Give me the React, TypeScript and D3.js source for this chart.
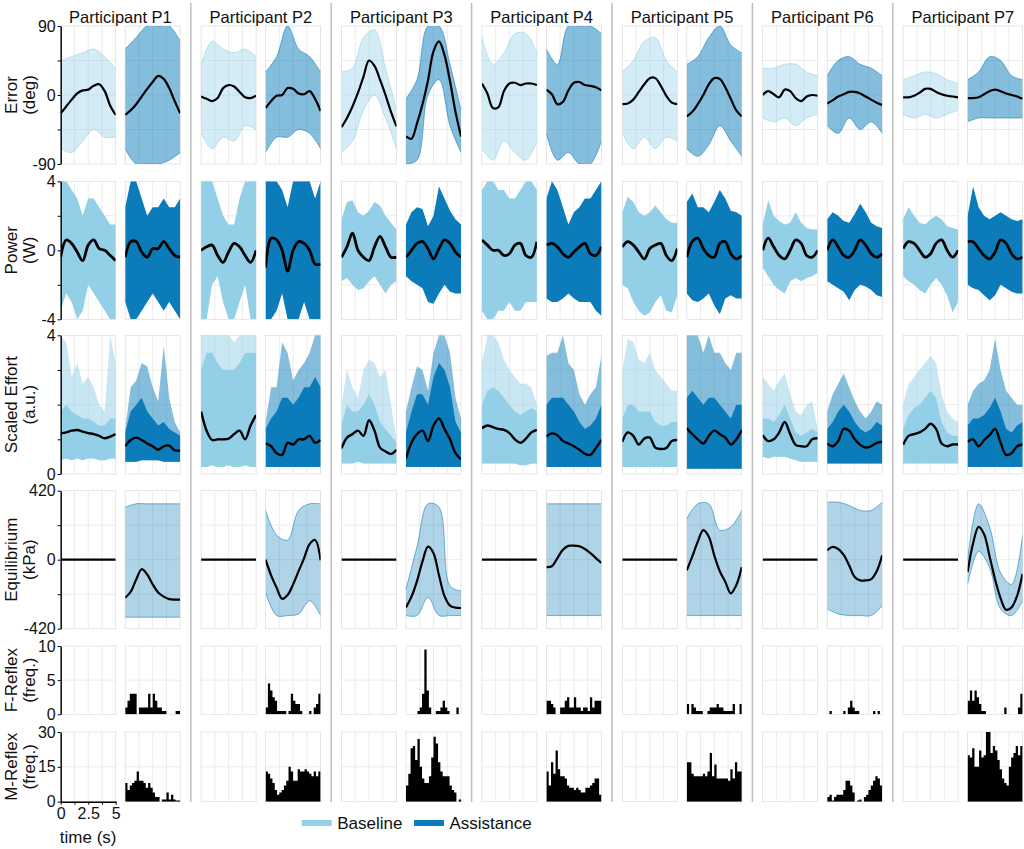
import * as d3 from "d3";
import { useEffect, useRef } from "react";

const participants = ["P1", "P2", "P3", "P4", "P5", "P6", "P7"];
const timeFine = [0, 0.5, 1, 1.5, 2, 2.5, 3, 3.5, 4, 4.5, 5];
const timeCoarse = [0, 1, 2, 3, 4, 5];
const timeFlat = [0, 5];
const timeTicks = [0, 1.25, 2.5, 3.75, 5];
const timeTickLabels = [0, 2.5, 5];
const histBins = 24;

const baseColor = "#93cfe7";
const assistColor = "#0b7cb9";

// Error (deg): mean traces and trial spread
const errorMeanBase = [
  [-24, -15, -6, 2, 6, 7, 12, 14, 5, -14, -26],
  [-2, -5, -8, -4, 9, 13, 11, 4, -3, -4, -1],
  [-42, -30, -15, 3, 24, 45, 38, 20, 0, -22, -41],
  [15, 2, -17, -16, 5, 15, 16, 13, 15, 15, 13],
  [-12, -11, -6, 4, 14, 22, 22, 12, -1, -10, -12],
  [0, 5, 1, -3, 7, 5, -4, -8, -2, 0, -1],
  [-3, -3, -1, 3, 8, 8, 4, 1, -1, -2, -3],
];
const errorMeanAssist = [
  [-26, -20, -12, -2, 8, 17, 25, 21, 9, -8, -24],
  [-17, -8, -1, 0, 9, 8, 2, 1, 5, -5, -21],
  [-54, -57, -37, -12, 19, 57, 70, 52, 18, -22, -54],
  [7, 1, -12, -9, 6, 16, 17, 13, 12, 10, 6],
  [-28, -22, -12, 0, 14, 22, 21, 10, -5, -20, -28],
  [-11, -7, -2, 1, 4, 4, 2, -2, -6, -10, -13],
  [-4, -4, -3, 1, 5, 7, 5, 2, 0, -2, -5],
];
const errorHiBase = [
  [45, 50, 55, 60, 50, 35],
  [40, 70, 60, 55, 60, 50],
  [30, 35, 75, 85, 35, -20],
  [75, 40, 55, 80, 80, 55],
  [30, 45, 70, 75, 45, 30],
  [35, 35, 40, 40, 30, 25],
  [20, 25, 30, 28, 20, 15],
];
const errorLoBase = [
  [-70, -75, -60, -45, -55, -55],
  [-50, -70, -55, -60, -40, -45],
  [-75, -60, -20, 0, -30, -70],
  [-70, -85, -60, -75, -85, -60],
  [-50, -70, -55, -70, -55, -60],
  [-30, -35, -30, -40, -30, -25],
  [-25, -30, -25, -30, -25, -20],
];
const errorHiAssist = [
  [60, 75, 90, 90, 90, 70],
  [30, 50, 90, 60, 50, 30],
  [-5, 20, 90, 90, 40, -20],
  [60, 40, 90, 90, 90, 80],
  [40, 50, 75, 90, 65, 55],
  [25, 45, 50, 40, 35, 25],
  [20, 30, 50, 45, 25, 20],
];
const errorLoAssist = [
  [-70, -90, -90, -90, -85, -75],
  [-75, -55, -55, -45, -50, -70],
  [-90, -85, 0, 20, -40, -75],
  [-50, -85, -75, -90, -90, -60],
  [-70, -80, -65, -40, -60, -80],
  [-40, -50, -30, -45, -35, -50],
  [-35, -30, -30, -30, -30, -30],
];

// Power (W)
const powerMeanBase = [
  [-0.4, 0.6, 0.4, -0.1, -0.6, 0.3, 0.6, 0.1, 0, -0.3, -0.6],
  [0, 0.2, 0.3, -0.3, -0.7, -0.1, 0.4, 0.2, -0.3, -0.7, 0],
  [-0.4, 0.2, 1.0, 0, -0.4, -0.6, 0.2, 0.8, 0.2, -0.4, -0.4],
  [0.6, 0.3, 0, 0, -0.3, -0.2, 0.3, 0.4, -0.3, -0.4, 0.5],
  [0.2, 0.5, 0.3, -0.1, -0.5, 0.1, 0.3, 0.4, -0.3, -0.6, 0.1],
  [0, 0.7, 0.2, -0.3, -0.5, 0, 0.6, 0.4, -0.3, -0.4, 0],
  [0.1, 0.5, 0.4, 0, -0.4, -0.2, 0.4, 0.6, 0, -0.4, 0],
];
const powerMeanAssist = [
  [-0.4, 0.5, 0.5, -0.1, -0.4, 0.1, 0.1, 0.5, 0.1, -0.3, -0.4],
  [-1, 0.7, 0.6, 0, -1.2, 0, 0.5, 0.4, 0, -0.8, -0.8],
  [-0.4, 0, 0.4, 0.5, 0.1, -0.5, 0.1, 0.6, 0.4, -0.1, -0.4],
  [0.3, 0.4, 0.2, -0.2, -0.4, -0.1, 0.2, 0.4, -0.2, -0.3, 0.2],
  [-0.4, 0.5, 0.7, 0.1, -0.3, -0.4, 0.4, 0.5, -0.2, -0.5, -0.3],
  [0, 0.6, 0.2, -0.3, -0.4, 0, 0.6, 0.3, -0.2, -0.4, -0.2],
  [0.5, 0.5, 0.1, -0.3, -0.5, -0.1, 0.6, 0.4, -0.2, -0.5, -0.4],
];
const powerHiBase = [
  [4, 4, 3.5, 3, 2, 3, 3, 2.5, 2, 1.5, 1.5],
  [4, 4, 4, 3, 2, 1.5, 1.5, 3, 4, 4, 4],
  [1.8, 2.8, 2.9, 2.2, 2, 2.3, 2.8, 2.6, 2, 1.6, 1.2],
  [3.5, 4, 4, 3.5, 3.5, 3, 3, 3.5, 4, 4, 3.5],
  [2.2, 3.1, 2.8, 2.2, 2, 2.2, 2.6, 2.2, 1.8, 1.6, 1.6],
  [1.5, 2.9, 2, 1.7, 1.5, 1.6, 2.2, 1.6, 1.3, 1.2, 1.2],
  [1.8, 2.5, 2, 1.6, 1.5, 1.8, 2, 1.8, 1.4, 1.3, 1.2],
];
const powerLoBase = [
  [-3.5, -2.5, -3, -4, -3.5, -2, -2.5, -3, -3.5, -4, -4],
  [-4, -4, -2, -1.5, -3, -4, -4, -3, -2, -4, -4],
  [-1.8, -1.6, -2, -2.3, -2.2, -1.8, -1.5, -2, -2.5, -2, -1.8],
  [-3.5, -4, -4, -3.5, -3.5, -3, -3.5, -3.5, -3, -3, -3],
  [-2, -2.2, -3, -3.5, -3.8, -3.6, -3, -2.6, -3.5, -3.6, -2.6],
  [-1, -1.5, -2, -2.3, -2.5, -1.8, -1.6, -1.8, -1.6, -1.5, -1.3],
  [-1.5, -1.8, -2, -2.3, -2.5, -2, -1.6, -2, -2.6, -3.6, -3],
];
const powerHiAssist = [
  [2.5, 4, 4, 3, 2, 2.5, 2.5, 3, 2.5, 2.5, 3],
  [4, 4, 4, 3.5, 2.5, 4, 4, 4, 4, 3, 4],
  [1.5, 2.2, 2.5, 2.4, 1.4, 2, 3.7, 3, 2.3, 1.8, 1.5],
  [3, 4, 3.5, 2.5, 1.5, 2.2, 2.5, 3, 3, 3.5, 4],
  [2.8, 3.3, 2.5, 2.5, 2.2, 2.8, 3.5, 3, 2.3, 2.2, 2],
  [1.8, 2.2, 2, 1.7, 1.6, 2.1, 2.7, 2.2, 1.6, 1.4, 1.3],
  [2, 3.7, 2.5, 2, 1.8, 2, 2.2, 2, 1.8, 1.7, 1.8],
];
const powerLoAssist = [
  [-3, -4, -4, -3.5, -3, -2.5, -3, -3.5, -3, -3.5, -4],
  [-4, -4, -3.5, -2.5, -4, -4, -4, -3, -4, -4, -4],
  [-1.5, -1.8, -2, -2.2, -3, -3.1, -2.5, -2, -2.4, -2.5, -2.5],
  [-2.8, -3, -3, -2.8, -2.5, -2.8, -3, -3, -3, -3.5, -3.8],
  [-2.5, -2.9, -3, -2.8, -2.5, -3.2, -3.7, -2.8, -2.6, -2.8, -2.8],
  [-1.8, -2, -2.2, -2.4, -2.9, -2.3, -2, -2.1, -2.3, -2.6, -2.7],
  [-2, -2.2, -2.3, -2.6, -2.9, -2.6, -2, -2.2, -2.4, -2.5, -2.5],
];

// Scaled effort (a.u.): mean, dense core top, sparse peak top, floor
const effortMeanBase = [
  [1.17, 1.2, 1.25, 1.27, 1.22, 1.18, 1.15, 1.1, 1.03, 1.08, 1.15],
  [1.8, 1.25, 0.98, 1.0, 1.0, 1.02, 1.15, 1.25, 1.0, 1.4, 1.7],
  [0.74, 1.05, 1.15, 1.25, 1.1, 1.55, 1.25, 0.76, 0.65, 0.58, 0.7],
  [1.32, 1.4, 1.35, 1.3, 1.27, 1.18, 1.0, 0.9, 1.02, 1.2, 1.27],
  [0.93, 1.2, 1.1, 0.85, 1.02, 1.05, 0.76, 0.72, 0.75, 0.95, 0.98],
  [1.12, 0.95, 1.0, 1.2, 1.5, 1.15, 0.84, 0.8, 0.8, 1.0, 1.03],
  [0.84, 1.1, 1.15, 1.2, 1.3, 1.45, 1.3, 0.88, 0.8, 0.85, 0.85],
];
const effortMeanAssist = [
  [0.8, 0.98, 1.05, 0.98, 0.88, 0.8, 0.7, 0.8, 0.82, 0.68, 0.68],
  [0.88, 0.8, 0.6, 0.55, 0.9, 0.85, 1.0, 1.0, 1.1, 0.9, 0.98],
  [0.45, 0.9, 1.15, 1.25, 0.95, 1.4, 1.6, 1.3, 1.0, 0.6, 0.42],
  [1.08, 1.17, 1.12, 0.95, 0.88, 0.8, 0.7, 0.58, 0.55, 0.75, 0.98],
  [1.32, 1.15, 1.0, 0.88, 1.1, 1.25, 1.15, 1.05, 0.85, 1.0, 1.27],
  [0.88, 0.8, 0.95, 1.3, 1.25, 1.0, 0.84, 0.76, 0.8, 0.9, 0.93],
  [0.93, 1.0, 0.8, 0.98, 1.12, 1.3, 0.9, 0.55, 0.6, 0.8, 0.85],
];
const effortCoreBase = [
  [1.8, 2, 1.8, 1.7, 1.6, 1.6, 1.5, 1.4, 1.4, 1.6, 1.6],
  [3, 3.5, 3.5, 3.2, 3, 3, 3, 3.2, 3.5, 3.5, 3.5],
  [1.4, 2, 1.8, 1.8, 2, 2.3, 2, 1.5, 1.3, 1.1, 0.9],
  [2, 2.4, 2.5, 2.4, 2.2, 2, 1.8, 1.7, 1.8, 1.9, 1.8],
  [1.6, 2, 2, 1.8, 1.8, 1.8, 1.5, 1.4, 1.4, 1.5, 1.5],
  [1.6, 1.6, 1.5, 1.7, 2, 1.6, 1.2, 1.1, 1.2, 1.3, 1.2],
  [1.3, 1.7, 1.9, 2, 2.2, 2.4, 2.2, 1.5, 1.2, 1.1, 1.1],
];
const effortCoreAssist = [
  [1.2, 1.8, 2, 2.2, 1.8, 1.6, 1.4, 1.5, 1.3, 1.2, 1.1],
  [1.3, 1.6, 1.8, 2.2, 2.2, 2, 2.2, 2.5, 2.5, 2.8, 2.5],
  [1.2, 1.8, 2.3, 2.3, 2, 2.8, 3.2, 3, 2.5, 1.5, 1.2],
  [2, 2.2, 2.2, 2.2, 2, 1.8, 1.5, 1.3, 1.4, 1.6, 2],
  [2.2, 2.4, 2.2, 2, 2.2, 2.2, 2, 1.8, 1.6, 2, 2],
  [1.3, 1.5, 1.8, 2, 1.8, 1.5, 1.3, 1.2, 1.3, 1.5, 1.4],
  [1.4, 1.6, 1.6, 1.7, 1.9, 2.2, 1.8, 1.3, 1.2, 1.4, 1.5],
];
const effortHiBase = [
  [4, 3.8, 2.8, 3.2, 2.6, 2.8, 2.5, 2, 1.8, 4, 3.2],
  [4, 4, 4, 4, 4, 4, 3.8, 4, 4, 4, 4],
  [2, 3, 2.5, 2.2, 3, 3.3, 3.2, 2.8, 3, 2, 1],
  [3.2, 4, 4, 3.8, 3.3, 3, 2.8, 2.6, 2.6, 2.5, 2],
  [3, 3.9, 3.8, 3.3, 3.2, 3.5, 3, 2.8, 2.6, 2.4, 2.4],
  [2.8, 2.6, 2.4, 2.7, 2.9, 2.3, 1.8, 1.7, 2, 2.1, 1.3],
  [2, 2.6, 2.8, 3, 3.2, 3.4, 3.2, 2.3, 1.8, 1.6, 1.5],
];
const effortLoBase = [
  [0.4, 0.45, 0.4, 0.45, 0.4, 0.45, 0.45, 0.4, 0.4, 0.45, 0.45],
  [0.2, 0.2, 0.25, 0.2, 0.2, 0.25, 0.2, 0.2, 0.25, 0.2, 0.2],
  [0.3, 0.3, 0.3, 0.35, 0.3, 0.3, 0.3, 0.3, 0.3, 0.3, 0.3],
  [0.3, 0.3, 0.3, 0.3, 0.3, 0.3, 0.3, 0.25, 0.25, 0.3, 0.3],
  [0.2, 0.2, 0.2, 0.2, 0.2, 0.2, 0.2, 0.2, 0.2, 0.2, 0.2],
  [0.5, 0.45, 0.5, 0.5, 0.5, 0.45, 0.4, 0.35, 0.35, 0.35, 0.35],
  [0.3, 0.3, 0.3, 0.3, 0.3, 0.3, 0.3, 0.3, 0.3, 0.3, 0.3],
];
const effortHiAssist = [
  [1.3, 2.5, 2.7, 3.2, 3.1, 2.5, 2.1, 3.7, 2.2, 1.5, 1.2],
  [1.5, 2.5, 2.5, 3.8, 3.5, 2.7, 3, 3.2, 3.5, 4, 4],
  [1.8, 2.5, 3.1, 3, 2.4, 3.5, 4, 4, 3.5, 2.2, 1.6],
  [3.4, 3.5, 3.5, 4, 3.2, 3, 2.3, 2, 2.3, 2.5, 3.4],
  [4, 4, 4, 3.5, 4, 3.5, 3.5, 3.2, 3, 3.5, 3.5],
  [1.8, 2.3, 2.6, 2.9, 2.5, 2.1, 1.8, 1.6, 1.8, 2.1, 2],
  [2, 2.4, 2.6, 2.7, 3, 3.9, 3, 2.4, 2.2, 2, 2],
];
const effortLoAssist = [
  [0.35, 0.35, 0.35, 0.4, 0.4, 0.4, 0.4, 0.35, 0.35, 0.35, 0.35],
  [0.2, 0.2, 0.2, 0.2, 0.2, 0.2, 0.2, 0.2, 0.2, 0.2, 0.2],
  [0.2, 0.2, 0.2, 0.2, 0.2, 0.2, 0.2, 0.2, 0.2, 0.2, 0.2],
  [0.2, 0.2, 0.2, 0.2, 0.2, 0.2, 0.2, 0.2, 0.2, 0.2, 0.2],
  [0.15, 0.15, 0.15, 0.15, 0.15, 0.15, 0.15, 0.15, 0.15, 0.15, 0.15],
  [0.3, 0.3, 0.3, 0.3, 0.3, 0.3, 0.3, 0.3, 0.3, 0.3, 0.3],
  [0.2, 0.2, 0.2, 0.2, 0.2, 0.2, 0.2, 0.2, 0.2, 0.2, 0.2],
];

// Equilibrium (kPa): baseline is held at zero
const equilMeanBase = [[0, 0], [0, 0], [0, 0], [0, 0], [0, 0], [0, 0], [0, 0]];
const equilMeanAssist = [
  [-232, -195, -120, -58, -90, -150, -200, -225, -240, -243, -243],
  [0, -95, -170, -238, -215, -150, -70, 10, 95, 120, -4],
  [-290, -225, -130, -10, 80, 40, -95, -222, -280, -292, -294],
  [-45, -40, 10, 60, 84, 86, 82, 65, 40, 10, -20],
  [-65, 20, 110, 180, 140, 25, -70, -135, -205, -155, -45],
  [57, 78, 65, 30, -35, -105, -126, -126, -118, -70, 27],
  [-75, 100, 200, 155, 20, -120, -235, -305, -290, -220, -86],
];
const equilHiAssist = [
  [320, 340, 340, 340, 340, 340],
  [300, 150, 120, 300, 340, 340],
  [-180, 80, 340, 320, -160, -190],
  [340, 340, 340, 340, 340, 340],
  [250, 340, 340, 180, 200, 300],
  [350, 350, 330, 300, 300, 350],
  [0, 340, 200, -80, -150, 150],
];
const equilLoAssist = [
  [-350, -350, -350, -350, -350, -350],
  [-200, -340, -340, -330, -250, -340],
  [-340, -340, -230, -340, -340, -340],
  [-340, -340, -340, -340, -340, -340],
  [-340, -340, -340, -340, -340, -340],
  [-300, -330, -340, -340, -340, -280],
  [-150, 50, -50, -300, -340, -250],
];

// Reflex histograms (assistance only), 24 bins over 5 s
const fReflexAssist = [
  [1, 2, 3, 3, 3, 0, 1, 1, 1, 1, 3, 1, 3, 2, 1, 1, 0.5, 0.5, 0, 0, 0, 0, 0.5, 0.5],
  [1, 4.5, 3.5, 2.5, 2, 0.5, 0.5, 0.5, 0.5, 0, 0.5, 3, 2, 1.5, 1.5, 0.5, 0, 0, 0, 0.5, 0, 1, 1.5, 3],
  [0, 0, 0, 0, 0, 0.5, 1, 3, 9.5, 3.5, 1, 0, 0, 0.5, 0.5, 1, 2, 1, 0.5, 0, 0, 0, 1, 0],
  [2, 2, 1.5, 1, 0, 0, 1, 1, 2, 2.5, 1, 1, 2.5, 1, 1, 0.5, 1, 1, 0.5, 2.5, 1, 2, 2, 2],
  [1.5, 0, 1.5, 1, 0.5, 0.5, 0.5, 0, 0, 0.5, 1, 1, 1, 1.5, 1, 1, 0.5, 0.5, 0.5, 0.5, 1.5, 0, 0, 1.5],
  [0, 0.5, 0, 0, 0, 0, 0, 0.5, 0, 1, 2, 1, 0.5, 0.5, 0, 0, 0, 0, 0, 0, 0.5, 0, 0.5, 0],
  [2, 3.5, 2, 3.5, 2.5, 1.5, 0.5, 0.5, 0, 0, 0, 0, 0, 0, 0, 0, 1, 0, 0, 0, 0, 0, 1, 3],
];
const mReflexAssist = [
  [8, 5, 7, 8, 9, 13, 9, 9, 8, 6, 8, 6, 4, 2, 2, 0, 1, 1, 4, 1, 3, 1, 0.5, 0.5],
  [13, 12, 10, 8, 5, 3, 4, 5, 7, 9, 15, 13, 9, 9, 14, 13, 13, 14, 13, 12, 11, 13, 11, 13],
  [7, 12, 23, 24, 18, 27, 15, 10, 8, 8, 11, 19, 28, 25, 17, 13, 11, 11, 11, 7, 5, 4, 0, 1],
  [13, 7, 17, 12, 22, 14, 11, 11, 10, 7, 6, 6, 5, 6, 5, 4, 4, 6, 6, 7, 8, 10, 10, 3],
  [17, 17, 12, 11, 11, 11, 11, 12, 11, 13, 21, 11, 16, 10, 10, 10, 10, 10, 9, 14, 10, 17, 13, 13],
  [2, 3, 0.5, 2, 3, 3, 3, 5, 9, 9, 7, 4, 0, 0.5, 1, 0, 2, 3, 5, 7, 9, 11, 10, 7],
  [20, 19, 23, 15, 15, 22, 19, 20, 30, 30, 21, 24, 22, 18, 14, 10, 8, 7, 15, 19, 21, 24, 20, 24],
];

const FONT = "'Liberation Sans', Arial, Helvetica, sans-serif";

type Row = {
  kind: string;
  top: number;
  h: number;
  domain: [number, number];
  ticks: number[];
  labels: number[];
  name: string[];
};

const rows: Row[] = [
  { kind: "error", top: 26, h: 138, domain: [-90, 90], ticks: [-90, -45, 0, 45, 90], labels: [-90, 0, 90], name: ["Error", "(deg)"] },
  { kind: "power", top: 181.3, h: 138, domain: [-4, 4], ticks: [-4, -2, 0, 2, 4], labels: [-4, 0, 4], name: ["Power", "(W)"] },
  { kind: "effort", top: 335.3, h: 138.7, domain: [0, 4], ticks: [0, 1, 2, 3, 4], labels: [0, 4], name: ["Scaled Effort", "(a.u.)"] },
  { kind: "equil", top: 490.7, h: 138, domain: [-420, 420], ticks: [-420, -210, 0, 210, 420], labels: [-420, 0, 420], name: ["Equilibrium", "(kPa)"] },
  { kind: "freflex", top: 646, h: 68.3, domain: [0, 10], ticks: [0, 5, 10], labels: [0, 5, 10], name: ["F-Reflex", "(freq.)"] },
  { kind: "mreflex", top: 732, h: 69.7, domain: [0, 30], ticks: [0, 15, 30], labels: [0, 15, 30], name: ["M-Reflex", "(freq.)"] },
];

function drawFigure(container: HTMLElement) {
  const width = 1024;
  const height = 849;
  const left0 = 60.7;
  const blockStep = 140.4;
  const subOffset = 64.5;
  const panelW = 55;

  const svg = d3.select(container)
    .append("svg")
    .attr("width", width)
    .attr("height", height)
    .attr("viewBox", `0 0 ${width} ${height}`)
    .style("position", "absolute")
    .style("left", "0px")
    .style("top", "0px")
    .style("font-family", FONT)
    .style("background", "#fff");
  const defs = svg.append("defs");

  const x = d3.scaleLinear([0, 5], [0, panelW]);

  const band = (g: any, times: number[], lo: number[], hi: number[], y: any, color: string, opacity: number, curve: any, edges: boolean) => {
    const area = d3.area<number>()
      .x((_, i) => x(times[i]))
      .y0((_, i) => y(lo[i]))
      .y1((_, i) => y(hi[i]))
      .curve(curve);
    g.append("path").attr("d", area(times)).attr("fill", color).attr("fill-opacity", opacity);
    if (edges) {
      [lo, hi].forEach((arr) => {
        const edge = d3.line<number>().x((_, i) => x(times[i])).y((_, i) => y(arr[i])).curve(curve);
        g.append("path").attr("d", edge(times)).attr("fill", "none")
          .attr("stroke", color).attr("stroke-width", 0.8).attr("stroke-opacity", 0.7);
      });
    }
  };

  const meanLine = (g: any, times: number[], values: number[], y: any, w: number) => {
    const line = d3.line<number>().x((_, i) => x(times[i])).y((_, i) => y(values[i])).curve(d3.curveCatmullRom);
    g.append("path").attr("d", line(times)).attr("fill", "none")
      .attr("stroke", "#000").attr("stroke-width", w).attr("stroke-linejoin", "round");
  };

  const hist = (g: any, values: number[], y: any) => {
    const bw = 5 / histBins;
    const steps = [...values, values[values.length - 1]];
    const area = d3.area<number>()
      .x((_, i) => x(i * bw))
      .y0(y(0))
      .y1((d) => y(d))
      .curve(d3.curveStepAfter);
    g.append("path").attr("d", area(steps)).attr("fill", "#000");
  };

  rows.forEach((row, r) => {
    const y = d3.scaleLinear(row.domain, [row.h, 0]);
    participants.forEach((_, pi) => {
      [0, 1].forEach((ci) => {
        const px = left0 + pi * blockStep + ci * subOffset;
        const g = svg.append("g").attr("transform", `translate(${px},${row.top})`);
        const clipId = `clip-${r}-${pi}-${ci}`;
        defs.append("clipPath").attr("id", clipId)
          .append("rect").attr("width", panelW).attr("height", row.h);

        // grid and frame
        g.append("rect").attr("width", panelW).attr("height", row.h)
          .attr("fill", "none").attr("stroke", "#dedede").attr("stroke-width", 0.8);
        g.selectAll("line.vg").data([1.25, 2.5, 3.75]).join("line").attr("class", "vg")
          .attr("x1", (d: number) => x(d)).attr("x2", (d: number) => x(d))
          .attr("y1", 0).attr("y2", row.h)
          .attr("stroke", "#e6e6e6").attr("stroke-width", 0.8);
        g.selectAll("line.hg").data(row.ticks.slice(1, -1)).join("line").attr("class", "hg")
          .attr("x1", 0).attr("x2", panelW)
          .attr("y1", (d: number) => y(d)).attr("y2", (d: number) => y(d))
          .attr("stroke", "#e6e6e6").attr("stroke-width", 0.8);

        const body = g.append("g").attr("clip-path", `url(#${clipId})`);
        const color = ci === 0 ? baseColor : assistColor;

        if (row.kind === "error") {
          const lo = ci === 0 ? errorLoBase[pi] : errorLoAssist[pi];
          const hi = ci === 0 ? errorHiBase[pi] : errorHiAssist[pi];
          band(body, timeCoarse, lo, hi, y, color, ci === 0 ? 0.4 : 0.5, d3.curveCatmullRom, true);
          meanLine(body, timeFine, ci === 0 ? errorMeanBase[pi] : errorMeanAssist[pi], y, 2.2);
        } else if (row.kind === "power") {
          const lo = ci === 0 ? powerLoBase[pi] : powerLoAssist[pi];
          const hi = ci === 0 ? powerHiBase[pi] : powerHiAssist[pi];
          band(body, timeFine, lo, hi, y, color, 1, d3.curveLinear, false);
          meanLine(body, timeFine, ci === 0 ? powerMeanBase[pi] : powerMeanAssist[pi], y, 2.8);
        } else if (row.kind === "effort") {
          const lo = ci === 0 ? effortLoBase[pi] : effortLoAssist[pi];
          const hi = ci === 0 ? effortHiBase[pi] : effortHiAssist[pi];
          const core = ci === 0 ? effortCoreBase[pi] : effortCoreAssist[pi];
          band(body, timeFine, lo, hi, y, color, 0.5, d3.curveLinear, false);
          band(body, timeFine, lo, core, y, color, 1, d3.curveLinear, false);
          meanLine(body, timeFine, ci === 0 ? effortMeanBase[pi] : effortMeanAssist[pi], y, 2.4);
        } else if (row.kind === "equil") {
          if (ci === 0) {
            meanLine(body, timeFlat, equilMeanBase[pi], y, 2.2);
          } else {
            band(body, timeCoarse, equilLoAssist[pi], equilHiAssist[pi], y, color, 0.33, d3.curveCatmullRom, true);
            meanLine(body, timeFine, equilMeanAssist[pi], y, 2.2);
          }
        } else if (row.kind === "freflex" && ci === 1) {
          hist(body, fReflexAssist[pi], y);
        } else if (row.kind === "mreflex" && ci === 1) {
          hist(body, mReflexAssist[pi], y);
        }

        // left axis on first panel of each row
        if (pi === 0 && ci === 0) {
          const ax = g.append("g").call(
            d3.axisLeft(y).tickValues(row.ticks).tickSize(3).tickSizeOuter(0).tickPadding(2)
              .tickFormat((d: any) => (row.labels.includes(d) ? String(d) : ""))
          );
          ax.select(".domain").attr("stroke", "#000").attr("stroke-width", 1.4);
          ax.selectAll(".tick line").attr("stroke", "#000").attr("stroke-width", 1);
          ax.selectAll(".tick text").attr("font-size", 16).attr("font-family", FONT).attr("fill", "#111");
          if (row.kind === "mreflex") {
            const bx = g.append("g").attr("transform", `translate(0,${row.h})`).call(
              d3.axisBottom(x).tickValues(timeTicks).tickSize(3).tickSizeOuter(0).tickPadding(3)
                .tickFormat((d: any) => (timeTickLabels.includes(d) ? String(d) : ""))
            );
            bx.select(".domain").attr("stroke", "#000").attr("stroke-width", 1.4);
            bx.selectAll(".tick line").attr("stroke", "#000");
            bx.selectAll(".tick text").attr("font-size", 16).attr("font-family", FONT).attr("fill", "#111");
          }
        }
      });
    });

    // row label
    const cy = row.top + row.h / 2;
    row.name.forEach((txt, li) => {
      svg.append("text")
        .attr("transform", `translate(${li === 0 ? 11 : 29},${cy}) rotate(-90)`)
        .attr("text-anchor", "middle")
        .attr("dominant-baseline", "central")
        .attr("font-size", 17)
        .attr("fill", "#111")
        .text(txt);
    });
  });

  // titles and separators
  participants.forEach((p, pi) => {
    svg.append("text")
      .attr("x", left0 + pi * blockStep + (subOffset + panelW) / 2)
      .attr("y", 22.5)
      .attr("text-anchor", "middle")
      .attr("font-size", 16.5)
      .attr("fill", "#111")
      .text(`Participant ${p}`);
    if (pi > 0) {
      const sx = left0 + pi * blockStep - 10.3;
      svg.append("line")
        .attr("x1", sx).attr("x2", sx).attr("y1", 3).attr("y2", 802)
        .attr("stroke", "#bdbdbd").attr("stroke-width", 1.5);
    }
  });

  svg.append("text")
    .attr("x", left0 + panelW / 2)
    .attr("y", 843)
    .attr("text-anchor", "middle")
    .attr("font-size", 17)
    .attr("fill", "#111")
    .text("time (s)");

  // legend
  const legend = [
    { label: "Baseline", color: baseColor, x: 301.7 },
    { label: "Assistance", color: assistColor, x: 414 },
  ];
  legend.forEach((d) => {
    svg.append("rect").attr("x", d.x).attr("y", 820).attr("width", 30).attr("height", 6).attr("fill", d.color);
    svg.append("text").attr("x", d.x + 35.5).attr("y", 828.5)
      .attr("font-size", 17).attr("fill", "#111").text(d.label);
  });
}

export default function App() {
  const domRef = useRef<HTMLDivElement>(null);
  useEffect(() => {
    if (domRef.current) {
      drawFigure(domRef.current);
    }
    return () => {
      if (domRef.current) {
        d3.select(domRef.current).selectAll("svg").remove();
      }
    };
  }, [domRef]);
  return <div ref={domRef}></div>;
}
